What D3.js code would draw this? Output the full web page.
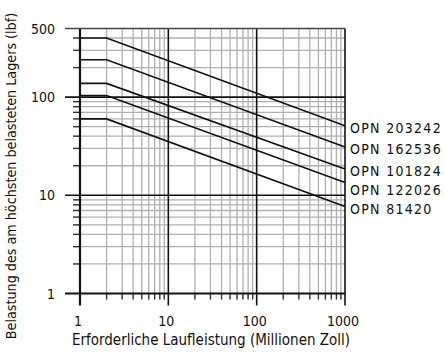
<!DOCTYPE html>
<html>
<head>
<meta charset="utf-8">
<script src="https://cdn.jsdelivr.net/npm/d3@7"></script>
<style>
  body { margin: 0; background: #fff; }
  text { font-family: "Liberation Sans Narrow", "DejaVu Sans Condensed", sans-serif; fill: #111; }
</style>
</head>
<body>
<script>
// part numbers and their load curves (flat up to 2, then falling to 1000)
var parts = ["OPN 203242", "OPN 162536", "OPN 101824", "OPN 122026", "OPN 81420"];
var runs = [1, 2, 1000];
var loads = [
  [400, 400, 51],
  [240, 240, 31],
  [138, 138, 18.5],
  [104, 104, 13.5],
  [60, 60, 7.7]
];
var xTicks = [1, 10, 100, 1000];
var yTicks = [1, 10, 100, 500];

var width = 445,
    height = 356;

var svg = d3.select("body").append("svg")
    .attr("width", width)
    .attr("height", height);

var x = d3.scaleLog().domain([1, 1000]).range([80, 345]);
var y = d3.scaleLog().domain([1, 500]).range([293.5, 28.5]);

// minor values for the grid
var xMinor = [], yMinor = [];
[1, 10, 100].forEach(function(d){
  for (var k = 2; k <= 9; k++) xMinor.push(d * k);
});
[1, 10].forEach(function(d){
  for (var k = 2; k <= 9; k++) yMinor.push(d * k);
});
[200, 300, 400].forEach(function(d){ yMinor.push(d); });

var grid = svg.append("g");

grid.selectAll(".vminor")
  .data(xMinor).enter()
  .append("line")
  .attr("x1", function(d){ return x(d); })
  .attr("x2", function(d){ return x(d); })
  .attr("y1", y(500))
  .attr("y2", y(1) + 6)
  .attr("stroke", "#b0b0b0")
  .attr("stroke-width", 1.3);

grid.selectAll(".hminor")
  .data(yMinor).enter()
  .append("line")
  .attr("x1", x(1) - 7)
  .attr("x2", x(1000))
  .attr("y1", function(d){ return y(d); })
  .attr("y2", function(d){ return y(d); })
  .attr("stroke", "#b0b0b0")
  .attr("stroke-width", 1.3);

// small dark ticks outside the plot for minor values
grid.selectAll(".xtk")
  .data(xMinor).enter()
  .append("line")
  .attr("x1", function(d){ return x(d); })
  .attr("x2", function(d){ return x(d); })
  .attr("y1", y(1))
  .attr("y2", y(1) + 6)
  .attr("stroke", "#333")
  .attr("stroke-width", 1.3);

grid.selectAll(".ytk")
  .data(yMinor).enter()
  .append("line")
  .attr("x1", x(1) - 7)
  .attr("x2", x(1))
  .attr("y1", function(d){ return y(d); })
  .attr("y2", function(d){ return y(d); })
  .attr("stroke", "#333")
  .attr("stroke-width", 1.3);

// major lines
grid.selectAll(".vmajor")
  .data(xTicks).enter()
  .append("line")
  .attr("x1", function(d){ return x(d); })
  .attr("x2", function(d){ return x(d); })
  .attr("y1", y(500))
  .attr("y2", y(1) + 12)
  .attr("stroke", "#111")
  .attr("stroke-width", function(d){ return d == 1 ? 2.2 : 1.6; });

grid.selectAll(".hmajor")
  .data(yTicks).enter()
  .append("line")
  .attr("x1", x(1) - 15)
  .attr("x2", x(1000))
  .attr("y1", function(d){ return y(d); })
  .attr("y2", function(d){ return y(d); })
  .attr("stroke", function(d){ return d == 500 ? "#444" : "#111"; })
  .attr("stroke-width", function(d){ return d == 1 ? 2 : 1.6; });

// tick labels
svg.selectAll(".xlab")
  .data(xTicks).enter()
  .append("text")
  .attr("x", function(d){ return x(d) - 2; })
  .attr("y", 326)
  .attr("text-anchor", "middle")
  .attr("font-size", 14)
  .text(function(d){ return d; });

svg.selectAll(".ylab")
  .data(yTicks).enter()
  .append("text")
  .attr("x", 55)
  .attr("y", function(d){ return y(d) + 5; })
  .attr("text-anchor", "end")
  .attr("font-size", 14)
  .text(function(d){ return d; });

// curves
var line = d3.line()
  .x(function(d){ return x(d[0]); })
  .y(function(d){ return y(d[1]); });

svg.selectAll(".curve")
  .data(loads).enter()
  .append("path")
  .attr("d", function(d){ return line(d.map(function(v, i){ return [runs[i], v]; })); })
  .attr("fill", "none")
  .attr("stroke", "#111")
  .attr("stroke-width", 1.6);

// labels at the right end, pushed apart so they don't overlap
var labY = [];
loads.forEach(function(d, i){
  var p = y(d[d.length - 1]) + 2;
  if (i > 0) p = Math.max(p, labY[i - 1] + 19);
  labY.push(p);
});

svg.selectAll(".part")
  .data(parts).enter()
  .append("text")
  .attr("x", 350)
  .attr("y", function(d, i){ return labY[i] + 5; })
  .attr("font-size", 14)
  .attr("letter-spacing", 1.3)
  .text(function(d){ return d; });

// axis titles
svg.append("text")
  .attr("x", 211)
  .attr("y", 345)
  .attr("text-anchor", "middle")
  .attr("font-size", 15)
  .text("Erforderliche Laufleistung (Millionen Zoll)");

svg.append("text")
  .attr("transform", "translate(16,176) rotate(-90)")
  .attr("text-anchor", "middle")
  .attr("font-size", 14.2)
  .text("Belastung des am höchsten belasteten Lagers (lbf)");
</script>
</body>
</html>
